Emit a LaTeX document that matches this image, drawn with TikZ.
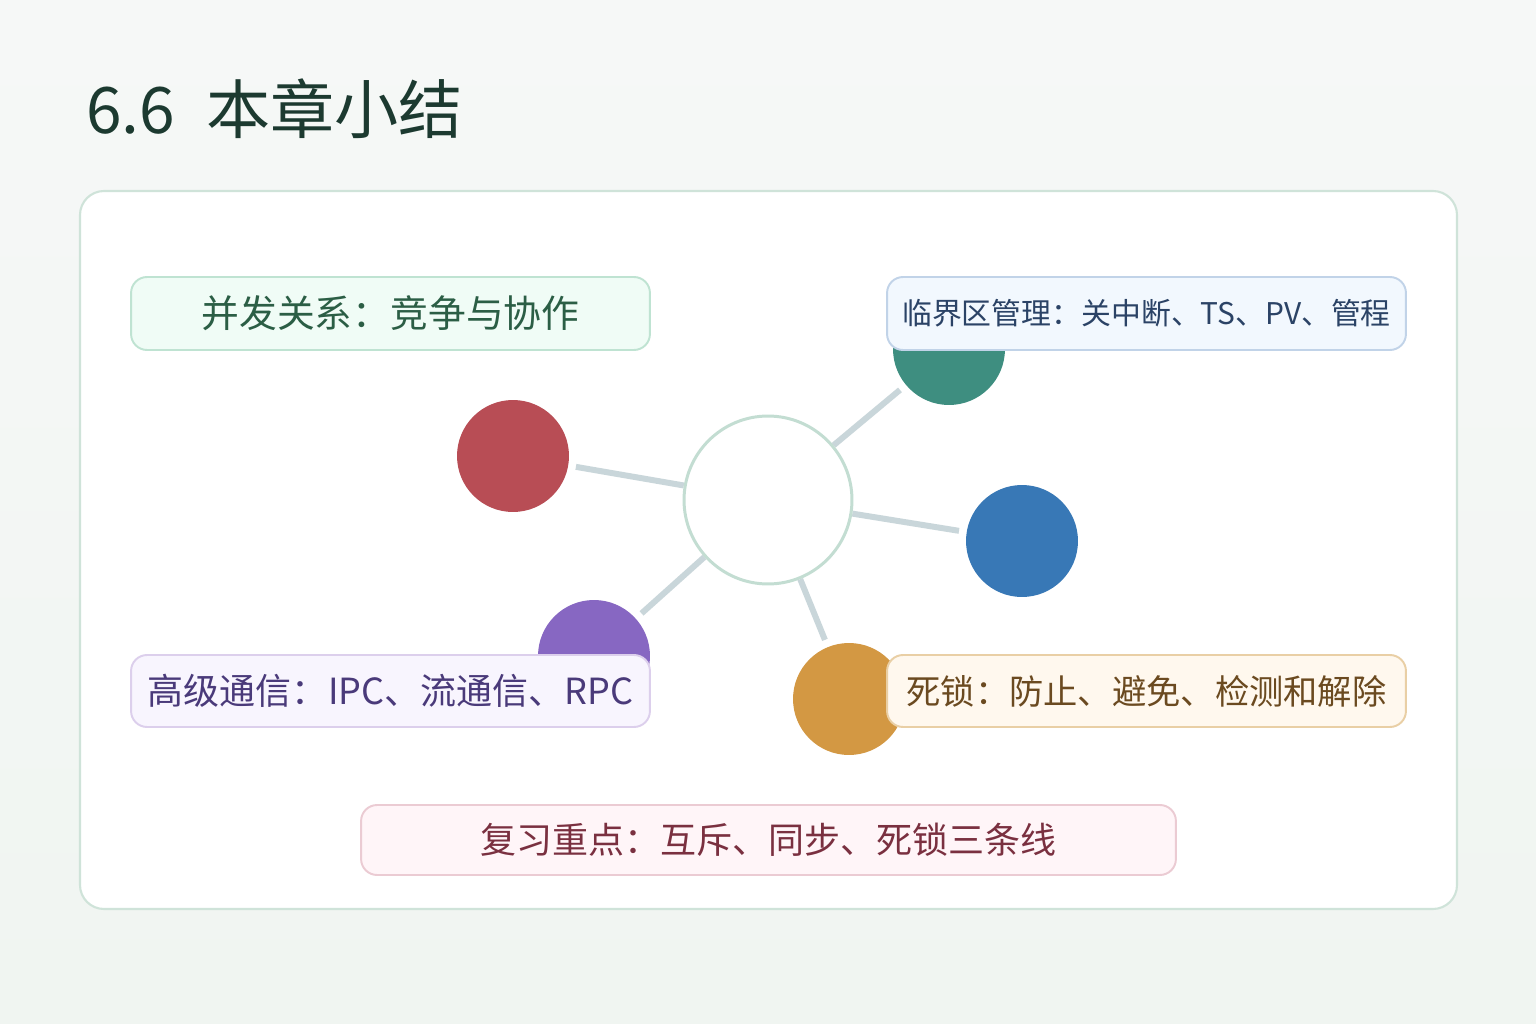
\documentclass[tikz,border=0pt]{standalone}
\usepackage{fontspec}
\setmainfont{Noto Sans CJK SC}
\pgfdeclarelayer{bglayer}
\pgfdeclarelayer{linelayer}
\pgfsetlayers{bglayer,linelayer,main}
\definecolor{bgtop}{HTML}{F6F8F7}
\definecolor{bgbot}{HTML}{F0F5F1}
\definecolor{panelborder}{HTML}{CFE3D9}
\definecolor{titlecol}{HTML}{1C3A30}
\definecolor{ringcol}{HTML}{C3DDD2}
\definecolor{conncol}{HTML}{C9D6DA}
\definecolor{redc}{HTML}{B84D55}
\definecolor{tealc}{HTML}{3E8E80}
\definecolor{bluec}{HTML}{3878B6}
\definecolor{purplec}{HTML}{8767C2}
\definecolor{orangec}{HTML}{D39843}
\definecolor{gfill}{HTML}{F0FCF6}\definecolor{gdraw}{HTML}{BFE3D2}\definecolor{gtext}{HTML}{2B5E45}
\definecolor{bfill}{HTML}{F2F8FE}\definecolor{bdraw}{HTML}{C1D3E8}\definecolor{btext}{HTML}{2B4366}
\definecolor{pfill}{HTML}{F8F5FE}\definecolor{pdraw}{HTML}{DCCFEC}\definecolor{ptext}{HTML}{4A3A7A}
\definecolor{ofill}{HTML}{FFF8EE}\definecolor{odraw}{HTML}{E9CFA5}\definecolor{otext}{HTML}{6B4A20}
\definecolor{rfill}{HTML}{FFF5F8}\definecolor{rdraw}{HTML}{EBCBD3}\definecolor{rtext}{HTML}{7A3040}
\begin{document}
\begin{tikzpicture}[x=0.02cm,y=-0.02cm,
  lbox/.style={draw, line width=1.1pt, rounded corners=0.32cm, minimum width=10.38cm, minimum height=1.46cm, inner sep=0pt, align=center, font=\fontsize{20.5}{24}\selectfont},
  dot/.style={circle, minimum size=2.24cm, inner sep=0pt, draw=none},
  hub/.style={circle, minimum size=3.36cm, inner sep=0pt, draw=ringcol, line width=1.7pt, fill=white},
  conn/.style={draw=conncol, line width=3.4pt, shorten >=0.15cm}
]
\useasboundingbox (0,0) rectangle (1536,1024);
\begin{pgfonlayer}{bglayer}
  \shade[top color=bgtop, bottom color=bgbot] (0,0) rectangle (1536,1024);
  \draw[panelborder, line width=1.2pt, fill=white, rounded corners=0.48cm] (80,191) rectangle (1457,909);
\end{pgfonlayer}

\node[anchor=base west, text=titlecol, font=\fontsize{36.5}{40}\selectfont, inner sep=0pt] (title) at (86,133) {6.6\hspace{0.62cm}本章小结};

\node[hub] (hub) at (768,500) {};
\node[dot, fill=redc] (red) at (513,456) {};
\node[dot, fill=tealc] (teal) at (949,349) {};
\node[dot, fill=bluec] (blue) at (1022,541) {};
\node[dot, fill=purplec] (purple) at (594,656) {};
\node[dot, fill=orangec] (orange) at (849,699) {};

\begin{pgfonlayer}{linelayer}
  \draw[conn] (hub) -- (red);
  \draw[conn] (hub) -- (teal);
  \draw[conn] (hub) -- (blue);
  \draw[conn] (hub) -- (purple);
  \draw[conn] (hub) -- (orange);
\end{pgfonlayer}

\node[lbox, fill=gfill, draw=gdraw, text=gtext, font=\fontsize{21.5}{24}\selectfont] (b1) at (390.5,313.5) {并发关系：竞争与协作};
\node[lbox, fill=bfill, draw=bdraw, text=btext, font=\fontsize{17}{20}\selectfont] (b2) at (1146.5,313.5) {临界区管理：关中断、TS、PV、管程};
\node[lbox, fill=pfill, draw=pdraw, text=ptext, minimum height=1.44cm] (b3) at (390.5,691) {高级通信：IPC、流通信、RPC};
\node[lbox, fill=ofill, draw=odraw, text=otext, minimum height=1.44cm, font=\fontsize{19.5}{24}\selectfont] (b4) at (1146.5,691) {死锁：防止、避免、检测和解除};
\node[lbox, fill=rfill, draw=rdraw, text=rtext, minimum width=16.3cm, minimum height=1.4cm] (b5) at (768.5,840) {复习重点：互斥、同步、死锁三条线};
\end{tikzpicture}
\end{document}
